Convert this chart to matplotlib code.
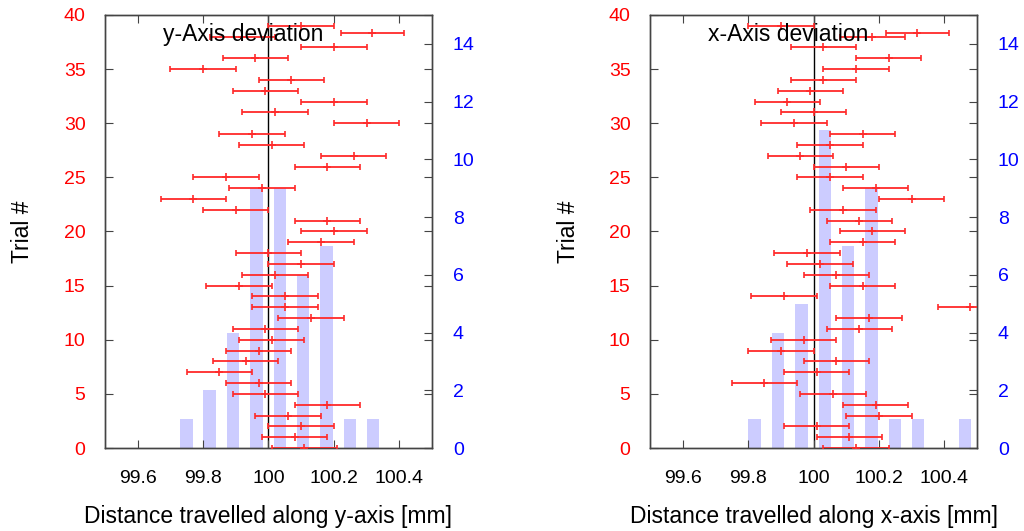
import matplotlib
matplotlib.use("Agg")
from matplotlib import pyplot as plt
from matplotlib.container import ErrorbarContainer
from matplotlib.legend_handler import HandlerErrorbar
import numpy as np

plt.rcParams['font.family'] = ['Liberation Sans', 'DejaVu Sans']

# Versuchsnummern und gemessene Strecken (Mittelwert je Versuch)
trials = list(range(40))
y_dist = [100.11, 100.08, 100.10, 100.06, 100.18, 99.99, 99.97, 99.85, 99.93, 99.97,
          100.01, 99.99, 100.13, 100.05, 100.05, 99.91, 100.02, 100.10, 100.00, 100.16,
          100.20, 100.18, 99.90, 99.77, 99.98, 99.87, 100.18, 100.26, 100.01, 99.95,
          100.30, 100.02, 100.20, 99.99, 100.07, 99.80, 99.96, 100.20, 99.92, 100.10]
x_dist = [100.13, 100.11, 100.01, 100.20, 100.19, 100.06, 99.85, 100.01, 100.07, 99.90,
          99.97, 100.14, 100.17, 100.48, 99.91, 100.15, 100.07, 100.02, 99.98, 100.15,
          100.18, 100.14, 100.09, 100.30, 100.19, 100.05, 100.10, 99.96, 100.05, 100.15,
          99.94, 100.00, 99.92, 99.99, 100.03, 100.13, 100.23, 100.03, 100.18, 99.90]
dist_err = 0.1

# Histogramm (Klassenmitten und Anzahl)
y_bins = [99.749, 99.820, 99.892, 99.963, 100.035, 100.106, 100.177, 100.249, 100.320]
y_counts = [1, 2, 4, 9, 9, 6, 7, 1, 1]
x_bins = [99.820, 99.892, 99.963, 100.035, 100.106, 100.177, 100.249, 100.320, 100.463]
x_counts = [1, 4, 5, 11, 7, 9, 1, 1, 1]

xticks = [99.6, 99.8, 100, 100.2, 100.4]
xticklabels = ['99.6', '99.8', '100', '100.2', '100.4']

FRAME = '#444444'


def panel(fig, rect, dist, bins, counts, axis_name):
    ax = fig.add_axes(rect)
    ax2 = ax.twinx()

    # Histogramm hinten
    ax2.bar(bins, counts, width=0.038, color='#ccccff', edgecolor='none')
    ax2.set_ylim(0, 15)
    ax2.set_yticks(range(0, 15, 2))
    ax2.tick_params(axis='y', direction='in', length=5.5, width=0.8,
                    labelsize=14, labelcolor='#0000ff', pad=15, color=FRAME)

    ax.set_zorder(ax2.get_zorder() + 1)
    ax.patch.set_visible(False)

    ax.axvline(100, color='black', lw=1.0, zorder=1)
    eb = ax.errorbar(dist, trials, xerr=dist_err, fmt='+', color='#ff2a2a',
                     ms=6, mew=1.2, elinewidth=1.3, capsize=2.2, capthick=1.2,
                     label=f'{axis_name}-Axis deviation', zorder=3)

    ax.set_xlim(99.5, 100.5)
    ax.set_ylim(0, 40)
    ax.set_xticks(xticks)
    ax.set_xticklabels(xticklabels)
    ax.set_yticks(range(0, 41, 5))
    ax.tick_params(axis='both', direction='in', length=5.5, width=0.8,
                   labelsize=14, color=FRAME, top=True, right=True)
    ax.tick_params(axis='y', labelcolor='#ff0000', pad=14)
    ax.tick_params(axis='x', pad=16)
    ax.set_xlabel(f'Distance travelled along {axis_name}-axis [mm]', fontsize=16.5, labelpad=13)
    ax.set_ylabel('Trial #', fontsize=16.5, labelpad=21)

    for a in (ax, ax2):
        for s in a.spines.values():
            s.set_color(FRAME)
            s.set_linewidth(1.0)

    ax.legend(handles=[eb], loc='center right', bbox_to_anchor=(0.914, 0.956),
              frameon=False, markerfirst=False, fontsize=16.5, borderpad=0,
              borderaxespad=0, handlelength=2.75, handletextpad=0.75,
              handler_map={ErrorbarContainer: HandlerErrorbar(xerr_size=1.375)})
    return ax


fig = plt.figure(figsize=(10.24, 5.31), dpi=100)
panel(fig, [0.1025, 0.1563, 0.3194, 0.8155], y_dist, y_bins, y_counts, 'y')
panel(fig, [0.6348, 0.1563, 0.3193, 0.8155], x_dist, x_bins, x_counts, 'x')

fig.savefig('out.png', dpi=100)
